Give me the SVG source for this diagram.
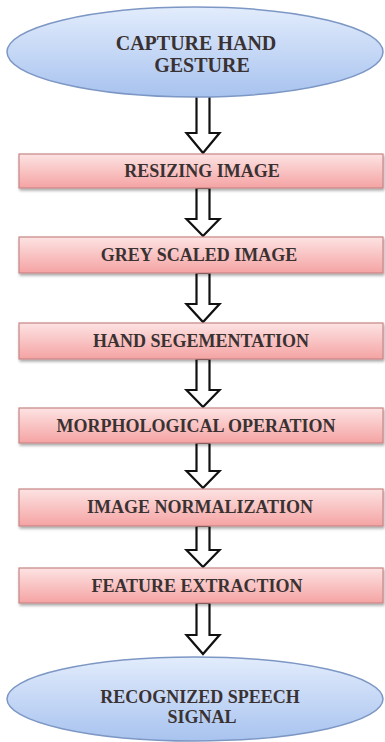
<svg xmlns="http://www.w3.org/2000/svg" width="385" height="742" viewBox="0 0 385 742">
<defs>
<linearGradient id="blueGrad" x1="0" y1="0" x2="0" y2="1">
<stop offset="0" stop-color="#e2ecfc"/>
<stop offset="1" stop-color="#a8c3ef"/>
</linearGradient>
<linearGradient id="pinkGrad" x1="0" y1="0" x2="0" y2="1">
<stop offset="0" stop-color="#fde3e3"/>
<stop offset="1" stop-color="#f5a3a3"/>
</linearGradient>
<filter id="shadow" x="-5%" y="-20%" width="110%" height="160%">
<feGaussianBlur in="SourceAlpha" stdDeviation="1.5"/>
<feOffset dx="1" dy="2" result="b"/>
<feComponentTransfer><feFuncA type="linear" slope="0.35"/></feComponentTransfer>
<feMerge><feMergeNode/><feMergeNode in="SourceGraphic"/></feMerge>
</filter>
<style>
.ell{fill:url(#blueGrad);stroke:#7d97c4;stroke-width:1.5}
.box{fill:url(#pinkGrad);stroke:#c98686;stroke-width:1.2;filter:url(#shadow)}
.lbl{font-family:"Liberation Serif","Times New Roman",serif;font-weight:bold;font-size:18px;fill:#3a3232;text-anchor:middle}
.arr{fill:#ffffff;stroke:#111111;stroke-width:2.2;stroke-linejoin:miter}
</style>
</defs>
<rect width="385" height="742" fill="#ffffff"/>
<g id="connectors">
<path class="arr" d="M196.5 95 V133 H186.5 L203 153 L219.5 133 H209.5 V95 Z"/>
<path class="arr" d="M196.5 188 V219 H186.5 L203 236 L219.5 219 H209.5 V188 Z"/>
<path class="arr" d="M196.5 273 V304 H186.5 L203 322 L219.5 304 H209.5 V273 Z"/>
<path class="arr" d="M196.5 359 V390 H186.5 L203 407 L219.5 390 H209.5 V359 Z"/>
<path class="arr" d="M196.5 443 V471 H186.5 L203 488 L219.5 471 H209.5 V443 Z"/>
<path class="arr" d="M196.5 526 V550 H186.5 L203 567 L219.5 550 H209.5 V526 Z"/>
<path class="arr" d="M196.5 603 V635 H186.5 L203 654 L219.5 635 H209.5 V603 Z"/>
</g>
<g id="capture">
<ellipse class="ell" cx="195" cy="52" rx="188" ry="45"/>
<text class="lbl" x="196" y="50" style="font-size:20px">CAPTURE HAND</text>
<text class="lbl" x="202" y="72" style="font-size:20px">GESTURE</text>
</g>
<g id="resizing">
<rect class="box" x="19" y="154" width="364" height="34"/>
<text class="lbl" x="202" y="177">RESIZING IMAGE</text>
</g>
<g id="grey">
<rect class="box" x="19" y="237" width="364" height="36"/>
<text class="lbl" x="199" y="261">GREY SCALED IMAGE</text>
</g>
<g id="segmentation">
<rect class="box" x="19" y="323" width="364" height="36"/>
<text class="lbl" x="201" y="347">HAND SEGEMENTATION</text>
</g>
<g id="morphological">
<rect class="box" x="19" y="408" width="364" height="35"/>
<text class="lbl" x="196" y="432">MORPHOLOGICAL OPERATION</text>
</g>
<g id="normalization">
<rect class="box" x="19" y="489" width="364" height="37"/>
<text class="lbl" x="200" y="513">IMAGE NORMALIZATION</text>
</g>
<g id="feature">
<rect class="box" x="19" y="568" width="364" height="35"/>
<text class="lbl" x="197" y="592">FEATURE EXTRACTION</text>
</g>
<g id="recognized">
<ellipse class="ell" cx="195" cy="699" rx="188" ry="42"/>
<text class="lbl" x="200" y="703" style="font-size:18px">RECOGNIZED SPEECH</text>
<text class="lbl" x="202" y="723" style="font-size:18px">SIGNAL</text>
</g>
</svg>
